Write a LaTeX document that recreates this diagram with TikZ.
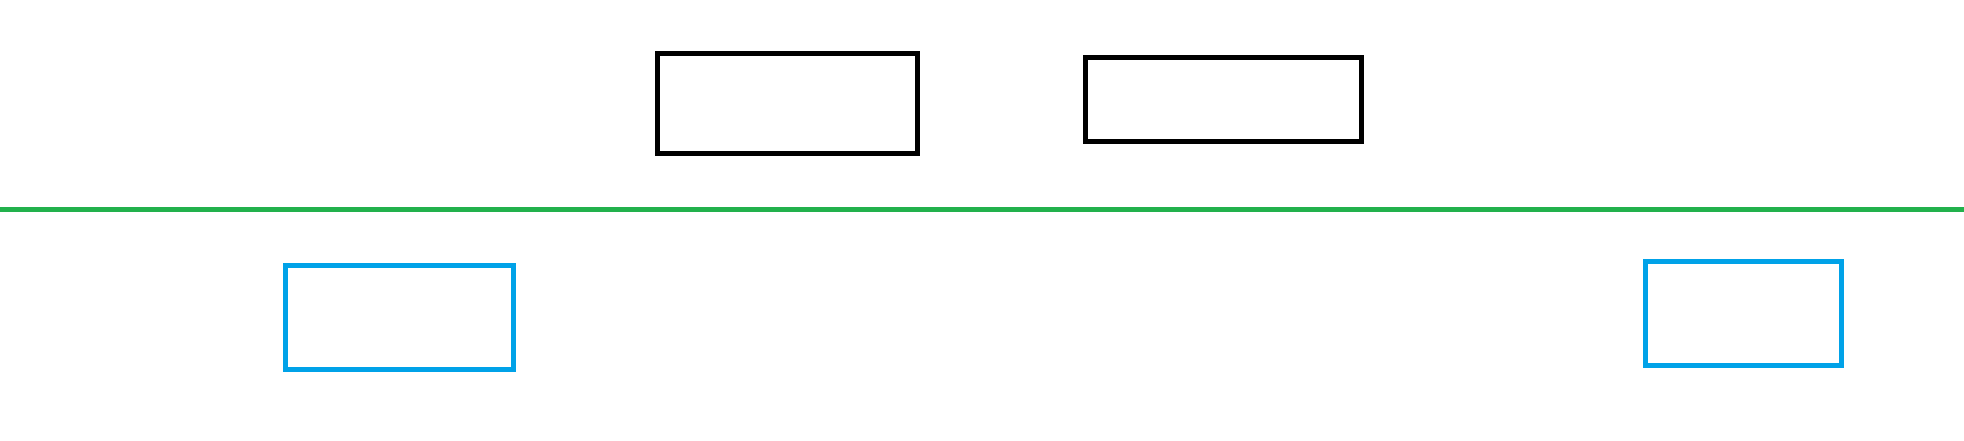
\documentclass[tikz,border=0pt]{standalone}
\usepackage{tikz}
\usetikzlibrary{calc}
\definecolor{paintgreen}{RGB}{34,177,76}
\definecolor{paintblue}{RGB}{0,162,232}
\def\blackbox{\node[rectangle,draw=black,line width=2.5pt,inner sep=0pt]}
\def\bluebox{\node[rectangle,draw=paintblue,line width=2.5pt,inner sep=0pt]}

\begin{document}
\begin{tikzpicture}[x=0.5pt,y=-0.5pt]
\useasboundingbox (0,0) rectangle (1964,440);
\blackbox[minimum width=130pt,minimum height=50pt] (top_left) at (787.5,103.5) {};
\blackbox[minimum width=137.75pt,minimum height=41.75pt] (top_right) at (1223.25,99.25) {};
\bluebox[minimum width=114pt,minimum height=52pt] (bottom_left) at (399.5,317.5) {};
\bluebox[minimum width=98pt,minimum height=52pt] (bottom_right) at (1743.5,313.5) {};
\coordinate (line_l) at (0,209.3);
\coordinate (line_r) at (1964,209.3);
\draw[paintgreen,line width=2.6pt] (line_l) -- (line_r);
\end{tikzpicture}
\end{document}
